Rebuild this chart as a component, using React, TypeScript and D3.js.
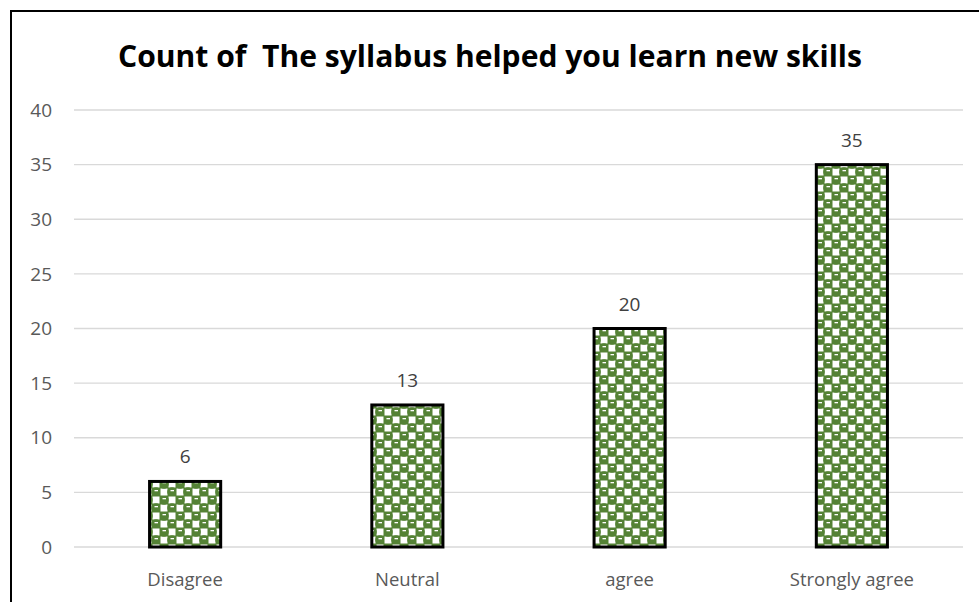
import React from "react";
import * as d3 from "d3";

const categories = ["Disagree", "Neutral", "agree", "Strongly agree"];
const counts = [6, 13, 20, 35];
const yTicks = [0, 5, 10, 15, 20, 25, 30, 35, 40];
const title = "Count of  The syllabus helped you learn new skills";

export default function App() {
  const W = 979, H = 602;
  const x = d3.scaleBand<string>().domain(categories).range([74, 963]).paddingInner(0.68).paddingOuter(0.34);
  const y = d3.scaleLinear().domain([0, 40]).range([547, 110]);
  const font = "'Open Sans', sans-serif";
  return (
    <svg width={W} height={H} style={{ position: "absolute", left: 0, top: 0, background: "#fff" }}>
      <defs>
        <pattern id="sph" width="16" height="16" patternUnits="userSpaceOnUse">
          <rect width="16" height="16" fill="#548235" />
          <rect x="8.5" y="0.5" width="7" height="7" fill="#fff" />
          <rect x="0.5" y="8.5" width="7" height="7" fill="#fff" />
          <circle cx="4" cy="4" r="4.8" fill="#548235" />
          <circle cx="12" cy="12" r="4.8" fill="#548235" />
          <rect x="2.5" y="2" width="3.5" height="1.3" fill="#fff" />
          <rect x="10.5" y="10" width="3.5" height="1.3" fill="#fff" />
        </pattern>
      </defs>
      <rect x={0} y={0} width={W} height={H} fill="#fff" />
      <path d={`M11,${H} V11 H${W}`} fill="none" stroke="#000" strokeWidth={2} />
      <text x={490} y={67} textAnchor="middle" fontFamily={font} fontWeight="bold" fontSize={31} fill="#000" style={{ whiteSpace: "pre" }} textLength={744} lengthAdjust="spacingAndGlyphs">{title}</text>
      {yTicks.map((t) => (
        <g key={t}>
          <line x1={74} x2={963} y1={y(t)} y2={y(t)} stroke="#d9d9d9" strokeWidth={1.3} />
          <text x={52} y={y(t)} dy="0.35em" textAnchor="end" fontFamily={font} fontSize={19} fill="#595959">{t}</text>
        </g>
      ))}
      {categories.map((c, i) => (
        <g key={c}>
          <rect x={x(c)} y={y(counts[i])} width={x.bandwidth()} height={y(0) - y(counts[i])} fill="url(#sph)" stroke="#000" strokeWidth={3} />
          <text x={(x(c) as number) + x.bandwidth() / 2} y={y(counts[i]) - 18} textAnchor="middle" fontFamily={font} fontSize={19} fill="#404040">{counts[i]}</text>
          <text x={(x(c) as number) + x.bandwidth() / 2} y={586} textAnchor="middle" fontFamily={font} fontSize={18.5} fill="#595959">{c}</text>
        </g>
      ))}
    </svg>
  );
}
